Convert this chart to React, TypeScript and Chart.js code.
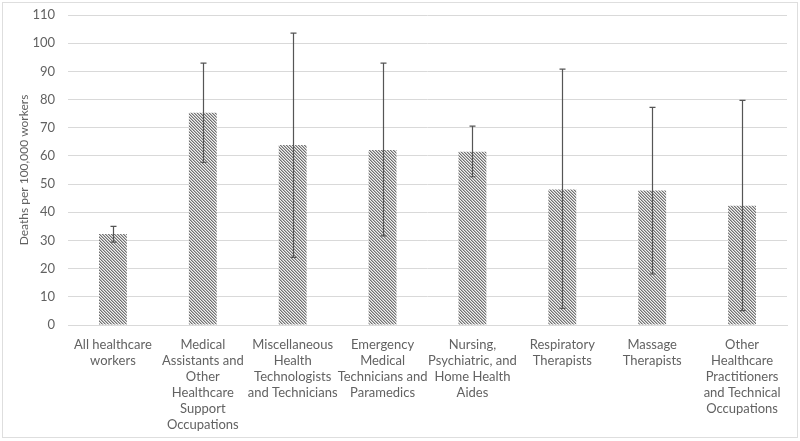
import React, { useEffect, useRef } from "react";
import { Chart, registerables } from "chart.js";

Chart.register(...registerables);

const categories: string[][] = [
  ["All healthcare", "workers"],
  ["Medical", "Assistants and", "Other", "Healthcare", "Support", "Occupations"],
  ["Miscellaneous", "Health", "Technologists", "and Technicians"],
  ["Emergency", "Medical", "Technicians and", "Paramedics"],
  ["Nursing,", "Psychiatric, and", "Home Health", "Aides"],
  ["Respiratory", "Therapists"],
  ["Massage", "Therapists"],
  ["Other", "Healthcare", "Practitioners", "and Technical", "Occupations"],
];

const deathRates: number[] = [32.3, 75.3, 63.9, 62.1, 61.5, 48.1, 47.7, 42.3];
const ciLower: number[] = [29.4, 57.7, 24.0, 31.6, 52.6, 5.9, 18.1, 5.1];
const ciUpper: number[] = [35.0, 92.9, 103.6, 92.9, 70.6, 90.8, 77.2, 79.7];

const yTitle = "Deaths per 100,000 workers";
const FONT = "Lato, 'Open Sans', sans-serif";
const TEXT = "#626262";

function makePattern(): CanvasPattern | string {
  const c = document.createElement("canvas");
  const s = 3;
  c.width = s;
  c.height = s;
  const ctx = c.getContext("2d");
  if (!ctx) return "#aaa";
  ctx.fillStyle = "#f2f2f2";
  ctx.fillRect(0, 0, s, s);
  for (let i = 0; i < s; i++) {
    ctx.fillStyle = "#727272";
    ctx.fillRect(i, i, 1, 1);
    ctx.fillStyle = "#b4b4b4";
    ctx.fillRect((i + 1) % s, i, 1, 1);
  }
  const p = ctx.createPattern(c, "repeat");
  return p || "#aaa";
}

const errorBarPlugin = {
  id: "errorBars",
  afterDatasetsDraw(chart: any) {
    const ctx = chart.ctx;
    const meta = chart.getDatasetMeta(0);
    const y = chart.scales.y;
    ctx.save();
    ctx.strokeStyle = "#555555";
    ctx.lineWidth = 1.2;
    meta.data.forEach((bar: any, i: number) => {
      const x = Math.round(bar.x) + 0.5;
      const yl = y.getPixelForValue(ciLower[i]);
      const yh = y.getPixelForValue(ciUpper[i]);
      ctx.beginPath();
      ctx.moveTo(x, yl);
      ctx.lineTo(x, yh);
      ctx.moveTo(x - 3, yh);
      ctx.lineTo(x + 3, yh);
      ctx.moveTo(x - 3, yl);
      ctx.lineTo(x + 3, yl);
      ctx.stroke();
    });
    ctx.restore();
  },
};

export default function App() {
  const ref = useRef<HTMLCanvasElement>(null);
  useEffect(() => {
    if (!ref.current) return;
    const chart = new Chart(ref.current, {
      type: "bar",
      data: {
        labels: categories,
        datasets: [
          {
            data: deathRates,
            backgroundColor: makePattern() as any,
            borderWidth: 0,
            categoryPercentage: 1,
            barPercentage: 0.31,
          },
        ],
      },
      options: {
        responsive: false,
        animation: false,
        layout: { padding: { top: 15, right: 13, left: 0, bottom: 0 } },
        plugins: { legend: { display: false }, tooltip: { enabled: false } },
        scales: {
          x: {
            grid: { display: false },
            border: { color: "#d9d9d9" },
            ticks: {
              color: TEXT,
              font: { family: FONT, size: 13, lineHeight: 16 / 13 },
              maxRotation: 0,
              autoSkip: false,
              padding: 4,
            },
            afterFit: (s: any) => {
              s.height = 116;
            },
          },
          y: {
            min: 0,
            max: 110,
            ticks: {
              stepSize: 10,
              color: TEXT,
              font: { family: FONT, size: 13, lineHeight: 1 },
              padding: 0,
            },
            grid: {
              color: "#d9d9d9",
              drawTicks: true,
              tickLength: 13,
              tickColor: "rgba(0,0,0,0)",
            },
            border: { display: false },
            title: {
              display: true,
              text: yTitle,
              color: TEXT,
              font: { family: FONT, size: 12 },
              padding: { top: 17, bottom: 0 },
            },
            afterFit: (s: any) => {
              s.width = 68;
            },
          },
        },
      },
      plugins: [errorBarPlugin],
    });
    return () => chart.destroy();
  }, []);
  return (
    <div style={{ position: "absolute", left: 0, top: 0, width: 800, height: 441, background: "#fff" }}>
      <div
        style={{
          position: "absolute",
          left: 2,
          top: 2,
          width: 794,
          height: 434,
          border: "1px solid #dedede",
        }}
      />
      <canvas ref={ref} width={800} height={441} style={{ position: "absolute", left: 0, top: 0 }} />
    </div>
  );
}
